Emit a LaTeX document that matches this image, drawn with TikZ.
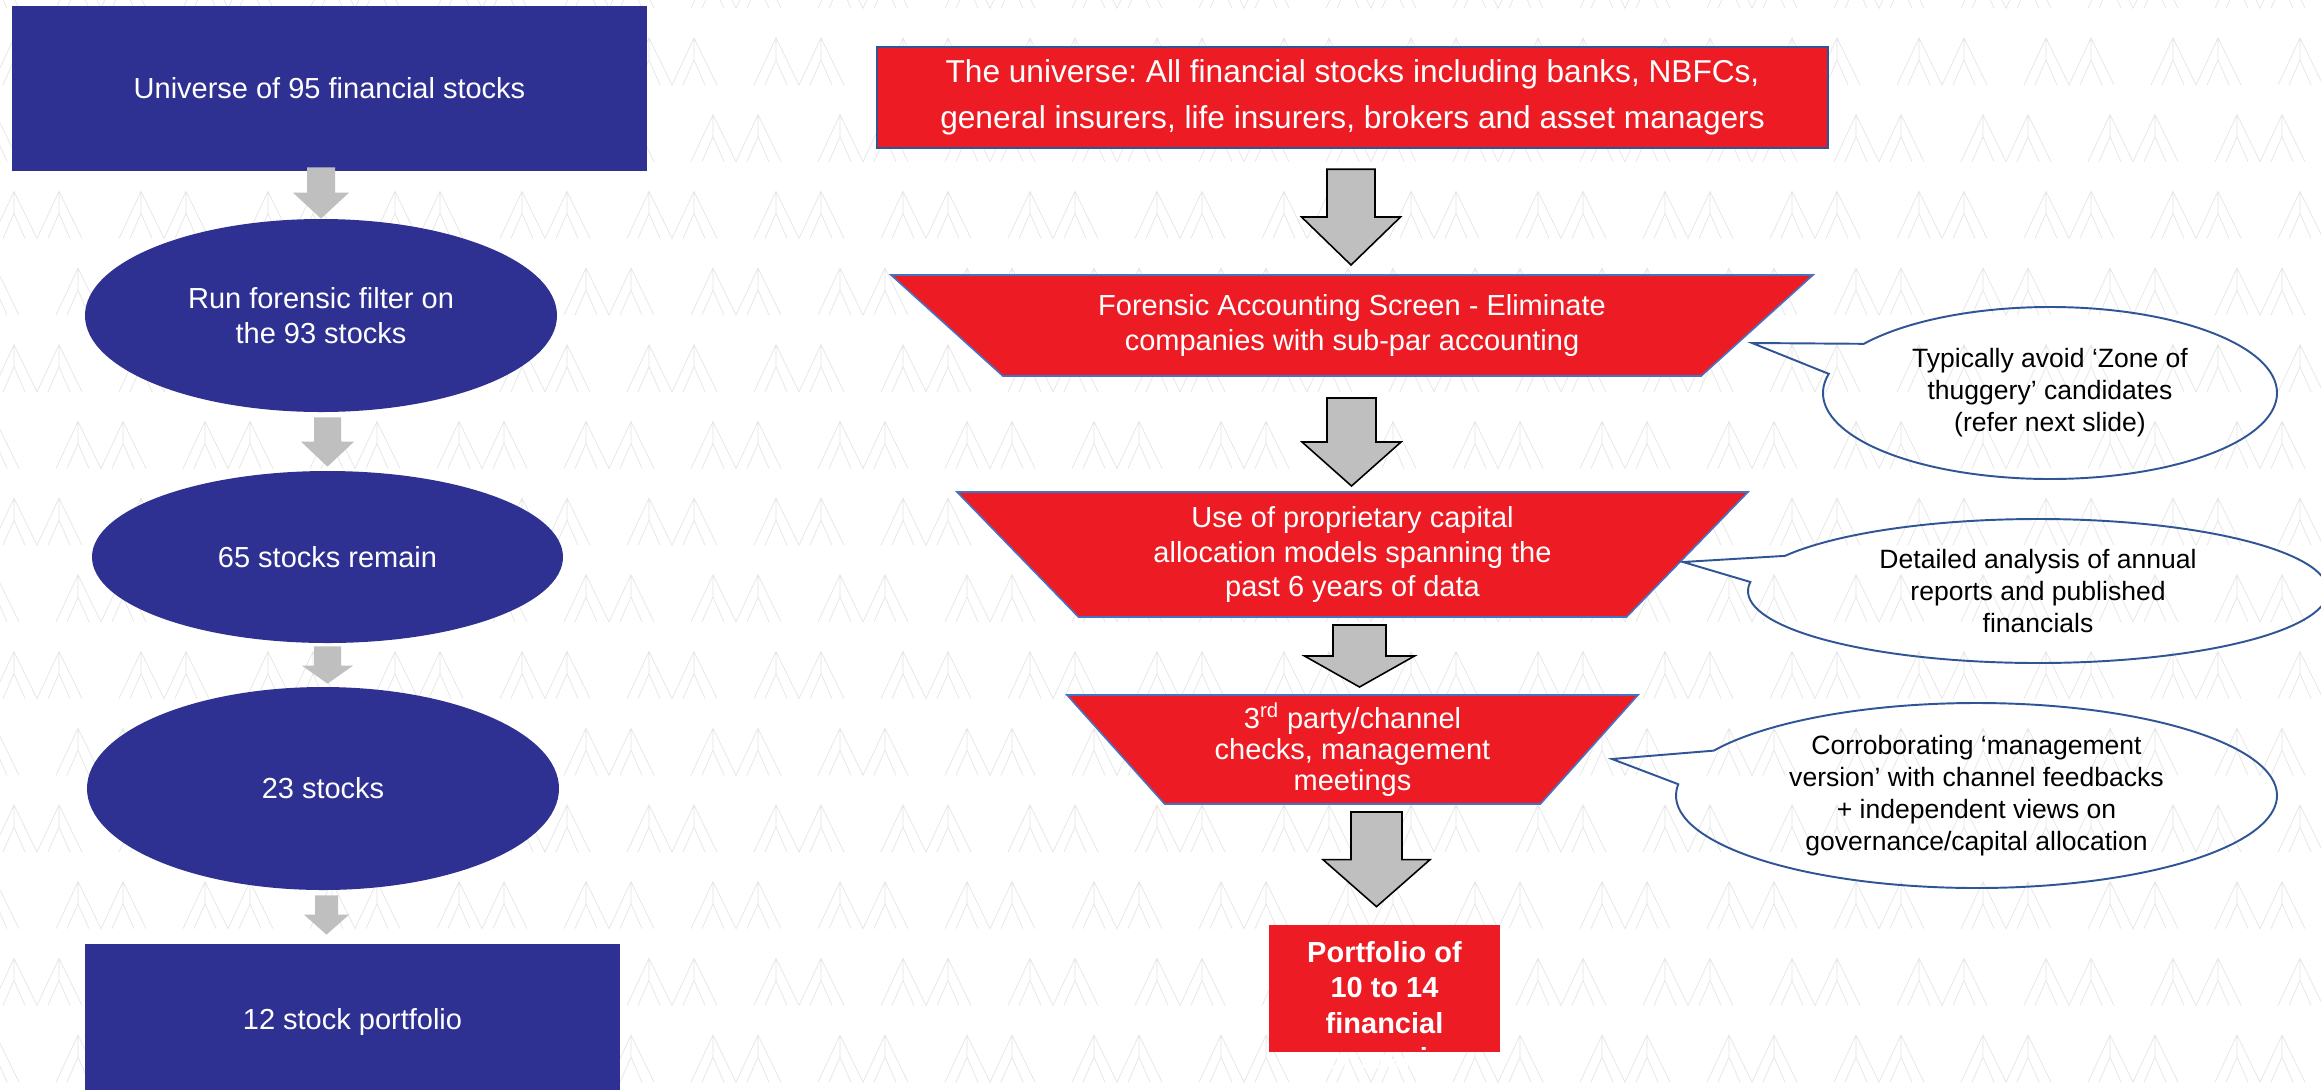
\documentclass[tikz,border=0pt]{standalone}
\usepackage{fontspec}
\setmainfont{Liberation Sans}
\usepackage{tikz}
\usetikzlibrary{shapes.geometric, shapes.callouts, calc}
\definecolor{navy}{HTML}{2E3192}
\definecolor{finred}{HTML}{ED1C24}
\definecolor{arrowgray}{HTML}{BFBFBF}
\definecolor{noteblue}{HTML}{2F5597}
\definecolor{edgeblue}{HTML}{4472C4}
\newcommand{\pxu}{0.02cm}
\newcommand{\blockarrow}[6][]{%
  \path[#1] let \p1=#2, \p2=#3 in
    (\x1-#4*\pxu,\y1) -- (\x1+#4*\pxu,\y1) -- (\x1+#4*\pxu,\y2+#6*\pxu)
    -- (\x1+#5*\pxu,\y2+#6*\pxu) -- (\x1,\y2) -- (\x1-#5*\pxu,\y2+#6*\pxu)
    -- (\x1-#4*\pxu,\y2+#6*\pxu) -- cycle;}
\frenchspacing

\begin{document}
\begin{tikzpicture}[x=\pxu, y=-\pxu,
        dims/.style 2 args={minimum width=#1*\pxu, minimum height=#2*\pxu},
        stage/.style={rectangle, fill=navy, text=white, inner sep=0pt, align=center, font=\fontsize{16.5}{19.9}\selectfont},
        filter/.style={ellipse, fill=navy, text=white, inner sep=0pt, align=center, font=\fontsize{16.5}{19.9}\selectfont},
        topbox/.style={rectangle, fill=finred, draw=noteblue, line width=1.4pt, text=white, inner sep=0pt, align=center, font=\fontsize{18}{26.2}\selectfont},
        funnel/.style={trapezium, shape border rotate=180, trapezium stretches body, fill=finred, draw=edgeblue, line width=0.9pt, text=white, inner sep=0pt, align=center, font=\fontsize{16.5}{19.9}\selectfont},
        portbox/.style={rectangle, fill=finred, inner sep=0pt},
        porttext/.style={text=white, inner sep=0pt, align=center, font=\bfseries\fontsize{16.5}{20.2}\selectfont},
        note/.style={ellipse callout, draw=noteblue, line width=1.1pt, inner sep=0pt, align=center, callout pointer arc=22, font=\fontsize{15.1}{18.2}\selectfont},
        leftarr/.style={fill=arrowgray},
        rightarr/.style={fill=arrowgray, draw=black, line width=0.9pt},
        wm/.style={draw=black!10, line width=0.4pt}
    ]
        \useasboundingbox (0,0) rectangle (2321,1089);
        \clip (0,0) rectangle (2321,1089);
        \fill[white] (0,0) rectangle (2321,1089);

        \foreach \r in {0,...,14}{
            \foreach \c in {-1,...,18}{
                \pgfmathsetmacro{\mx}{\c*127+mod(\r,2)*63+56}
                \pgfmathsetmacro{\my}{\r*76.7-38.7}
                \draw[wm] (\mx,\my+47) -- (\mx+22,\my) -- (\mx+45,\my+47) -- (\mx+67,\my) -- (\mx+90,\my+47)
                    (\mx+11,\my+47) -- (\mx+22,\my+22) -- (\mx+33,\my+47)
                    (\mx+56,\my+47) -- (\mx+67,\my+22) -- (\mx+78,\my+47)
                    (\mx+22,\my) -- (\mx+22,\my+22) (\mx+67,\my) -- (\mx+67,\my+22);
            }
        }

        \node[stage, dims={635}{165}] (univ) at (329.5,88.5) {Universe of 95 financial stocks};
        \node[filter, dims={472}{193}] (run) at (321,315.5) {Run forensic filter on\\the 93 stocks};
        \node[filter, dims={471}{172}] (remain) at (327.5,557) {65 stocks remain};
        \node[filter, dims={472}{203}] (short) at (323,788.5) {23 stocks};
        \node[stage, dims={535}{156}] (final) at (352.5,1022) {12 stock portfolio};

        \node[topbox, dims={951}{101}] (allfin) at (1352.5,97.5) {The universe: All financial stocks including banks, NBFCs,\\general insurers, life insurers, brokers and asset managers};
        \node[funnel, trapezium angle=29, dims={922}{101}] (forensic) at (1352,325.5) {Forensic Accounting Screen - Eliminate\\companies with sub-par accounting};
        \node[funnel, trapezium angle=38.6, dims={791}{125}] (capital) at (1352.5,554.5) {Use of proprietary capital\\allocation models spanning the\\past 6 years of data};
        \node[funnel, trapezium angle=44, dims={571}{109}, font=\fontsize{16.5}{17.8}\selectfont] (channel) at (1352.5,749.5) {3\textsuperscript{rd} party/channel\\checks, management\\meetings};
        \node[portbox, dims={231}{127}] (port) at (1384.5,988.5) {};
        \node[porttext, anchor=north] (porttxt) at ($(port.north)+(0,16)$) {Portfolio of\\10 to 14\\financial\\companies};

        \node[note, dims={454}{172}, callout absolute pointer={(1752,343)}] (avoid) at (2050,393) {Typically avoid ‘Zone of\\thuggery’ candidates\\(refer next slide)};
        \node[note, dims={580}{144}, callout absolute pointer={(1683,562)}] (annual) at (2038,591) {Detailed analysis of annual\\reports and published\\financials};
        \node[note, dims={601}{185}, callout absolute pointer={(1612,759)}] (views) at (1976.5,795.5) {Corroborating ‘management\\version’ with channel feedbacks\\+ independent views on\\governance/capital allocation};

        \blockarrow[leftarr]{($(univ.south -| run.north)+(0,-4)$)}{(run.north)}{14}{28}{26}
        \blockarrow[leftarr]{($(run.south -| remain.north)+(0,5)$)}{($(remain.north)+(0,-4)$)}{13.5}{26.5}{25}
        \blockarrow[leftarr]{($(remain.south)+(0,3)$)}{($(short.north)+(0,-3)$)}{13.5}{25.5}{18}
        \blockarrow[leftarr]{($(short.south)+(3.5,5)$)}{($(final.north)+(0,-9)$)}{11.5}{22.5}{20}

        \blockarrow[rightarr]{($(allfin.south)+(-1.5,20)$)}{($(forensic.center)+(0,-60.5)$)}{24}{49.5}{48}
        \blockarrow[rightarr]{($(forensic.center)+(-0.5,72.5)$)}{($(capital.center)+(0,-68.5)$)}{24.5}{49.5}{44}
        \blockarrow[rightarr]{($(capital.center)+(7,70.5)$)}{($(channel.center)+(0,-62.5)$)}{26.5}{55}{31}
        \blockarrow[rightarr]{($(channel.center)+(24,62.5)$)}{($(port.north)+(0,-18)$)}{25.5}{53.5}{47}
    \end{tikzpicture}
\end{document}
